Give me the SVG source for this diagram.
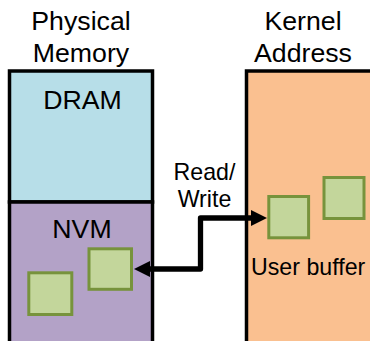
<svg xmlns="http://www.w3.org/2000/svg" width="370" height="341" viewBox="0 0 370 341">
  <defs>
    <style>
      .lbl { font-family: "Liberation Sans", Arial, sans-serif; fill: #000; }
      .big { font-size: 26.7px; }
      .mid { font-size: 23.2px; }
      .region { stroke: #000; stroke-width: 3.5; }
      .page { fill: #C3D69B; stroke: #77933C; stroke-width: 3; }
      .link { fill: none; stroke: #000; stroke-width: 5.3; stroke-linejoin: round; }
    </style>
    <marker id="head" markerUnits="userSpaceOnUse" markerWidth="18" markerHeight="18"
            viewBox="0 -9 18 18" refX="0" refY="0" orient="auto-start-reverse">
      <path d="M0,-8 L16,0 L0,8 z" fill="#000"/>
    </marker>
  </defs>

  <rect width="370" height="341" fill="#fff"/>

  <!-- Physical memory column -->
  <g id="physical-memory">
    <text class="lbl big" x="81" y="30" text-anchor="middle">Physical</text>
    <text class="lbl big" x="81" y="62" text-anchor="middle">Memory</text>
  </g>

  <g id="dram">
    <rect class="region" x="9.5" y="71" width="143" height="131" fill="#B7DEE8"/>
    <text class="lbl big" x="82.5" y="109.3" text-anchor="middle">DRAM</text>
  </g>

  <g id="nvm">
    <rect class="region" x="9.5" y="202" width="143" height="160" fill="#B3A2C7"/>
    <text class="lbl big" x="82" y="238.3" text-anchor="middle">NVM</text>
    <rect class="page" x="89" y="248.8" width="42.5" height="40.5"/>
    <rect class="page" x="28.8" y="272.8" width="43" height="41.7"/>
  </g>

  <!-- Kernel address space column -->
  <g id="kernel-address">
    <rect class="region" x="246.5" y="71" width="160" height="291" fill="#FAC090"/>
    <text class="lbl big" x="303" y="29.5" text-anchor="middle">Kernel</text>
    <text class="lbl big" x="303" y="62" text-anchor="middle">Address</text>
  </g>

  <g id="user-buffer">
    <rect class="page" x="268.8" y="196.5" width="39.8" height="41.3"/>
    <rect class="page" x="324" y="177.5" width="40" height="41"/>
    <text class="lbl mid" x="251" y="275">User buffer</text>
  </g>

  <!-- Read/Write transfer between NVM and the user buffer -->
  <g id="connectors">
    <path class="link" d="M150,269 H200.5 V218 H251" marker-start="url(#head)" marker-end="url(#head)"/>
    <text class="lbl mid" x="204.5" y="180" text-anchor="middle">Read/</text>
    <text class="lbl mid" x="204.5" y="206.5" text-anchor="middle">Write</text>
  </g>
</svg>
